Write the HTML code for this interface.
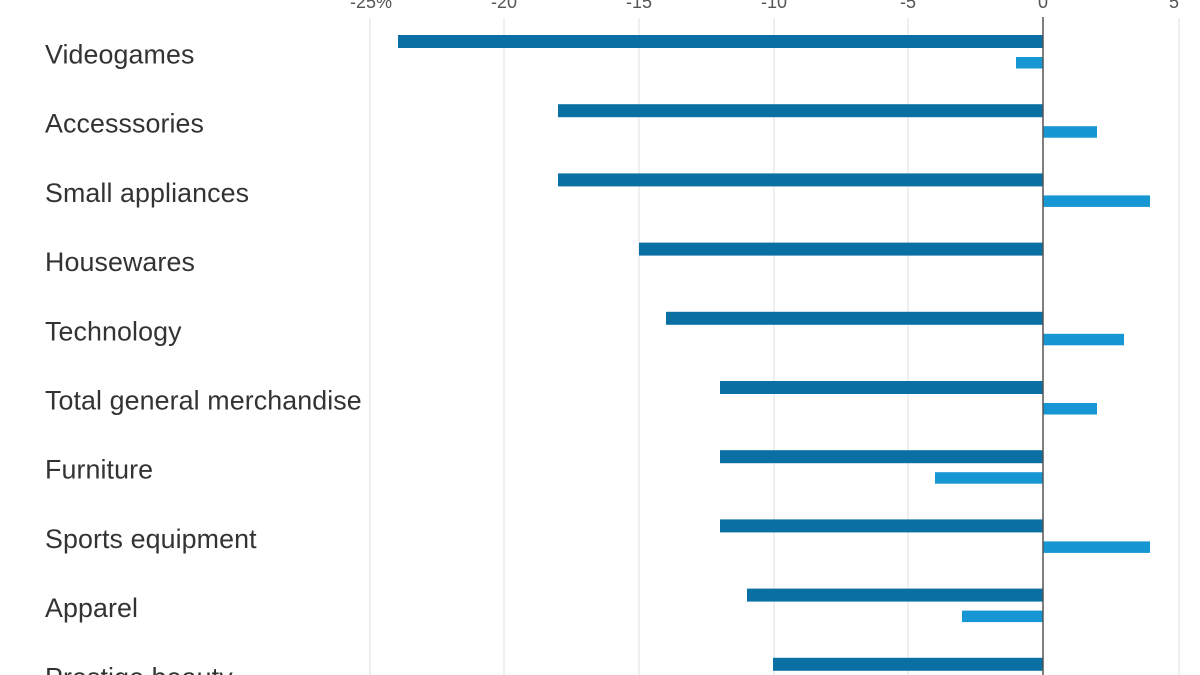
<!DOCTYPE html>
<html>
<head>
<meta charset="utf-8">
<style>
  html,body{margin:0;padding:0;background:#fff;}
  svg{display:block;}
  text{font-family:"Liberation Sans", sans-serif;}
</style>
</head>
<body>
<svg width="1200" height="675" viewBox="0 0 1200 675" xmlns="http://www.w3.org/2000/svg">
  <rect width="1200" height="675" fill="#fff"/>
  <!-- gridlines -->
  <g stroke="#e4e4e4" stroke-width="1.2">
    <line x1="370" y1="18" x2="370" y2="675"/>
    <line x1="504" y1="18" x2="504" y2="675"/>
    <line x1="639" y1="18" x2="639" y2="675"/>
    <line x1="774" y1="18" x2="774" y2="675"/>
    <line x1="908" y1="18" x2="908" y2="675"/>
    <line x1="1179" y1="18" x2="1179" y2="675"/>
  </g>
  <!-- top tick labels -->
  <g font-size="18" fill="#555" text-anchor="middle">
    <text x="371" y="8">-25%</text>
    <text x="504" y="8">-20</text>
    <text x="639" y="8">-15</text>
    <text x="774" y="8">-10</text>
    <text x="908" y="8">-5</text>
    <text x="1043" y="8">0</text>
    <text x="1174" y="8">5</text>
  </g>
  <!-- bars -->
  <g fill="#0a6fa3">
    <rect x="398" y="35" width="645" height="13"/>
    <rect x="558" y="104.2" width="485" height="13"/>
    <rect x="558" y="173.4" width="485" height="13"/>
    <rect x="639" y="242.6" width="404" height="13"/>
    <rect x="666" y="311.8" width="377" height="13"/>
    <rect x="720" y="381" width="323" height="13"/>
    <rect x="720" y="450.2" width="323" height="13"/>
    <rect x="720" y="519.4" width="323" height="13"/>
    <rect x="747" y="588.6" width="296" height="13"/>
    <rect x="773" y="657.8" width="270" height="13"/>
  </g>
  <g fill="#1696d2">
    <rect x="1016" y="57" width="27" height="11.5"/>
    <rect x="1043" y="126.2" width="54" height="11.5"/>
    <rect x="1043" y="195.4" width="107" height="11.5"/>
    <rect x="1043" y="333.8" width="81" height="11.5"/>
    <rect x="1043" y="403" width="54" height="11.5"/>
    <rect x="935" y="472.2" width="108" height="11.5"/>
    <rect x="1043" y="541.4" width="107" height="11.5"/>
    <rect x="962" y="610.6" width="81" height="11.5"/>
  </g>
  <!-- zero line -->
  <line x1="1043" y1="17" x2="1043" y2="675" stroke="#555" stroke-width="1.5"/>
  <!-- category labels -->
  <g font-size="26.8" fill="#333" letter-spacing="0.1">
    <text x="45" y="63.5">Videogames</text>
    <text x="45" y="132.7">Accesssories</text>
    <text x="45" y="201.9">Small appliances</text>
    <text x="45" y="271.1">Housewares</text>
    <text x="45" y="340.3">Technology</text>
    <text x="45" y="409.5">Total general merchandise</text>
    <text x="45" y="478.7">Furniture</text>
    <text x="45" y="547.9">Sports equipment</text>
    <text x="45" y="617.1">Apparel</text>
    <text x="45" y="686.3">Prestige beauty</text>
  </g>
</svg>
</body>
</html>
